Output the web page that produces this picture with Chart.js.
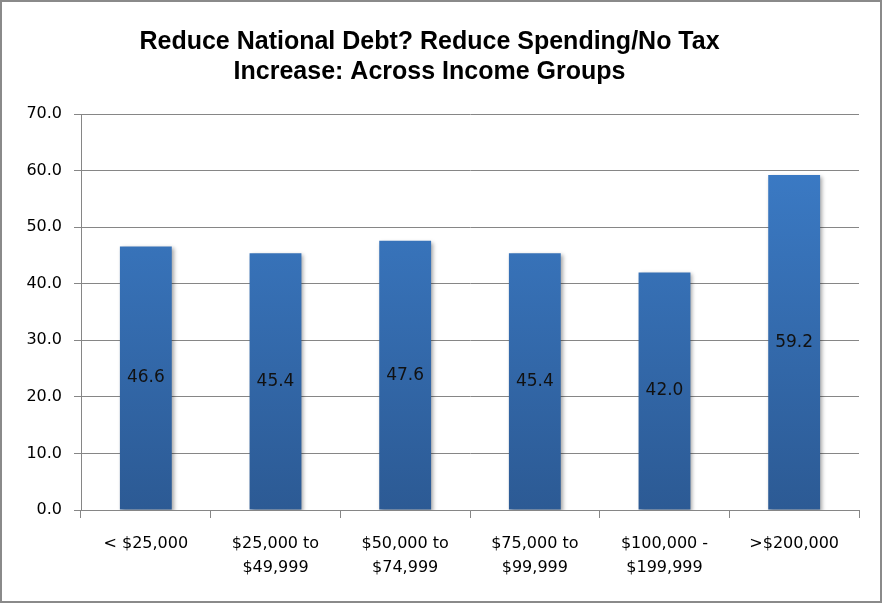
<!DOCTYPE html>
<html>
<head>
<meta charset="utf-8">
<script src="https://cdn.jsdelivr.net/npm/chart.js@4/dist/chart.umd.min.js"></script>
<style>
html,body{margin:0;padding:0;background:#fff;}
#wrap{width:882px;height:603px;position:relative;}
</style>
</head>
<body>
<div id="wrap"><canvas id="c" width="882" height="603"></canvas></div>
<script>
const titleLines = ["Reduce National Debt? Reduce Spending/No Tax", "Increase: Across Income Groups"];
const categories = [["< $25,000"], ["$25,000 to", "$49,999"], ["$50,000 to", "$74,999"], ["$75,000 to", "$99,999"], ["$100,000 -", "$199,999"], [">$200,000"]];
const values = [46.6, 45.4, 47.6, 45.4, 42.0, 59.2];
const yTicks = [0, 10, 20, 30, 40, 50, 60, 70];

const tickFont = {family: "'DejaVu Sans', sans-serif", size: 16};
const xTickFont = {family: "'DejaVu Sans', sans-serif", size: 16, lineHeight: 1.5};
const gridColor = '#868686';

const borderPlugin = {
  id: 'outerBorder',
  afterDraw(chart) {
    const ctx = chart.ctx;
    ctx.save();
    ctx.strokeStyle = '#8a8a8a';
    ctx.lineWidth = 2;
    ctx.strokeRect(1, 1, chart.width - 2, chart.height - 2);
    ctx.restore();
  }
};

const shadowPlugin = {
  id: 'barShadow',
  beforeDatasetDraw(chart) {
    const ctx = chart.ctx;
    ctx.save();
    ctx.shadowColor = 'rgba(0,0,0,0.35)';
    ctx.shadowOffsetX = 2;
    ctx.shadowOffsetY = 2;
    ctx.shadowBlur = 4;
  },
  afterDatasetDraw(chart) {
    chart.ctx.restore();
  }
};

const labelPlugin = {
  id: 'centerLabels',
  afterDatasetsDraw(chart) {
    const ctx = chart.ctx;
    const meta = chart.getDatasetMeta(0);
    ctx.save();
    ctx.font = "17px 'DejaVu Sans', sans-serif";
    ctx.fillStyle = '#111';
    ctx.textAlign = 'center';
    ctx.textBaseline = 'middle';
    meta.data.forEach((bar, i) => {
      const y = (bar.y + bar.base) / 2;
      ctx.fillText(values[i].toFixed(1), bar.x, y);
    });
    ctx.restore();
  }
};

function barGradient(context) {
  const chart = context.chart;
  const area = chart.chartArea;
  if (!area) return '#3572bd';
  const g = chart.ctx.createLinearGradient(0, area.top, 0, area.bottom);
  g.addColorStop(0, '#3d7fcc');
  g.addColorStop(1, '#2c5a94');
  return g;
}

new Chart(document.getElementById('c'), {
  type: 'bar',
  data: {
    labels: categories,
    datasets: [{
      data: values,
      backgroundColor: barGradient,
      borderWidth: 0,
      categoryPercentage: 1.0,
      barPercentage: 0.4
    }]
  },
  options: {
    responsive: false,
    animation: false,
    devicePixelRatio: 1,
    layout: {padding: {left: 0, right: 23, top: 0, bottom: 0}},
    plugins: {
      legend: {display: false},
      tooltip: {enabled: false},
      title: {
        display: true,
        text: titleLines,
        color: '#000',
        font: {family: "'Liberation Sans', sans-serif", size: 25, weight: 'bold', lineHeight: 1.2},
        padding: {top: 27, bottom: 27}
      }
    },
    scales: {
      x: {
        grid: {display: true, drawOnChartArea: false, drawTicks: true, tickLength: 8, color: gridColor, offset: true},
        border: {display: true, color: gridColor, width: 1},
        ticks: {font: xTickFont, color: '#000', padding: 14, maxRotation: 0, autoSkip: false},
        afterFit(scale) { scale.height = 93; }
      },
      y: {
        min: 0, max: 70,
        afterBuildTicks(scale) { scale.ticks = yTicks.map(v => ({value: v})); },
        grid: {color: gridColor, tickLength: 7, drawTicks: true},
        border: {display: true, color: gridColor, width: 1},
        ticks: {font: tickFont, color: '#000', padding: 12, callback: v => Number(v).toFixed(1)},
        afterFit(scale) { scale.width = 81; }
      }
    }
  },
  plugins: [shadowPlugin, labelPlugin, borderPlugin]
});
</script>
</body>
</html>
